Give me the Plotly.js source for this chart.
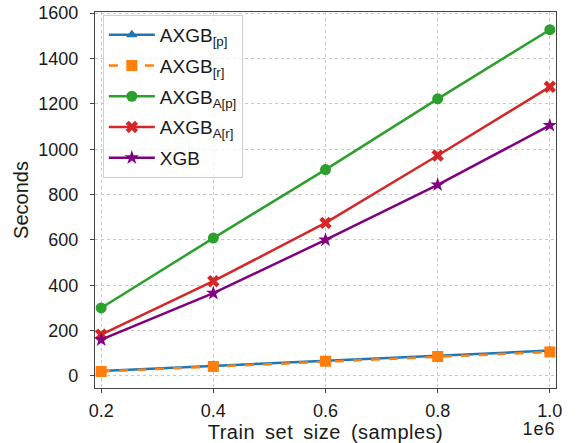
<!DOCTYPE html>
<html><head><meta charset="utf-8">
<script src="https://cdn.plot.ly/plotly-3.0.1.min.js"></script>
<style>
html,body{margin:0;padding:0;background:#fff}
#plot{width:579px;height:443px}
#plot .xtitle{letter-spacing:0.5px;word-spacing:4px}
#plot .annotation-text{letter-spacing:1px}
</style>
</head><body><div id="plot"></div>
<script>
var trainSize = [0.2, 0.4, 0.6, 0.8, 1.0];
var xTickText = ['0.2', '0.4', '0.6', '0.8', '1.0'];
var yTicks = [0, 200, 400, 600, 800, 1000, 1200, 1400, 1600];
var axgbP  = [22, 45, 68, 90, 112];
var axgbR  = [20, 42, 65, 86, 106];
var axgbAP = [300, 608, 910, 1222, 1527];
var axgbAR = [182, 418, 675, 972, 1275];
var xgb    = [160, 365, 600, 843, 1105];
var names = ['AXGB<sub>[p]</sub>', 'AXGB<sub>[r]</sub>', 'AXGB<sub>A[p]</sub>', 'AXGB<sub>A[r]</sub>', 'XGB'];

function tr(y, name, color, symbol, dash, size, g) {
  return {x: trainSize, y: y, name: name, type: 'scatter', mode: 'lines+markers', legendgroup: g,
    line: {color: color, width: 2.5, dash: dash},
    marker: {color: color, symbol: symbol, size: size, line: {width: 0}}};
}
var data = [
  tr(axgbP, names[0], '#1f77b4', 'triangle-up', 'solid', 10, 'a'),
  tr(axgbR, names[1], '#ff7f0e', 'square', 'dash', 11, 'b'),
  tr(axgbAP, names[2], '#2ca02c', 'circle', 'solid', 11, 'c'),
  tr(axgbAR, names[3], '#d62728', 'x', 'solid', 11, 'd'),
  tr(xgb, names[4], '#800080', 'star', 'solid', 11, 'e')
];
var fam = 'Liberation Sans, Arial, sans-serif';
var txt = '#1a1a1a';
var layout = {
  width: 579, height: 443,
  margin: {l: 95, r: 23, t: 12, b: 55},
  paper_bgcolor: '#fff', plot_bgcolor: '#fff',
  font: {family: fam, color: txt, size: 18},
  showlegend: true,
  legend: {x: 0.017, y: 0.992, xanchor: 'left', yanchor: 'top',
    bgcolor: 'rgba(255,255,255,0.8)', bordercolor: '#d0d0d0', borderwidth: 1,
    font: {family: fam, size: 19, color: txt}, tracegroupgap: 3, itemwidth: 46},
  xaxis: {range: [0.189, 1.011], tickvals: trainSize, ticktext: xTickText,
    tickfont: {family: fam, size: 18, color: txt},
    showgrid: true, gridcolor: '#c8c8c8', griddash: 'dot', gridwidth: 1,
    showline: true, linecolor: '#444', linewidth: 1.3, mirror: true,
    ticks: 'outside', ticklen: 4, tickcolor: '#444', zeroline: false, ticklabelstandoff: 2,
    title: {text: 'Train set size (samples)', font: {size: 20, family: fam, color: txt}, standoff: 3}},
  yaxis: {range: [-53, 1605], tickvals: yTicks,
    tickfont: {family: fam, size: 18, color: txt},
    showgrid: true, gridcolor: '#c8c8c8', griddash: 'dot', gridwidth: 1,
    showline: true, linecolor: '#444', linewidth: 1.3, mirror: true,
    ticks: 'outside', ticklen: 4, tickcolor: '#444', zeroline: false, ticklabelstandoff: 8,
    title: {text: 'Seconds', font: {size: 20, family: fam, color: txt}, standoff: 4}},
  annotations: [{text: '1e6', xref: 'paper', yref: 'paper', x: 1.0, y: 0, yshift: -29, xanchor: 'right', yanchor: 'top',
    showarrow: false, font: {size: 18, family: fam, color: txt}}]
};
Plotly.newPlot('plot', data, layout, {displayModeBar: false});
</script></body></html>
